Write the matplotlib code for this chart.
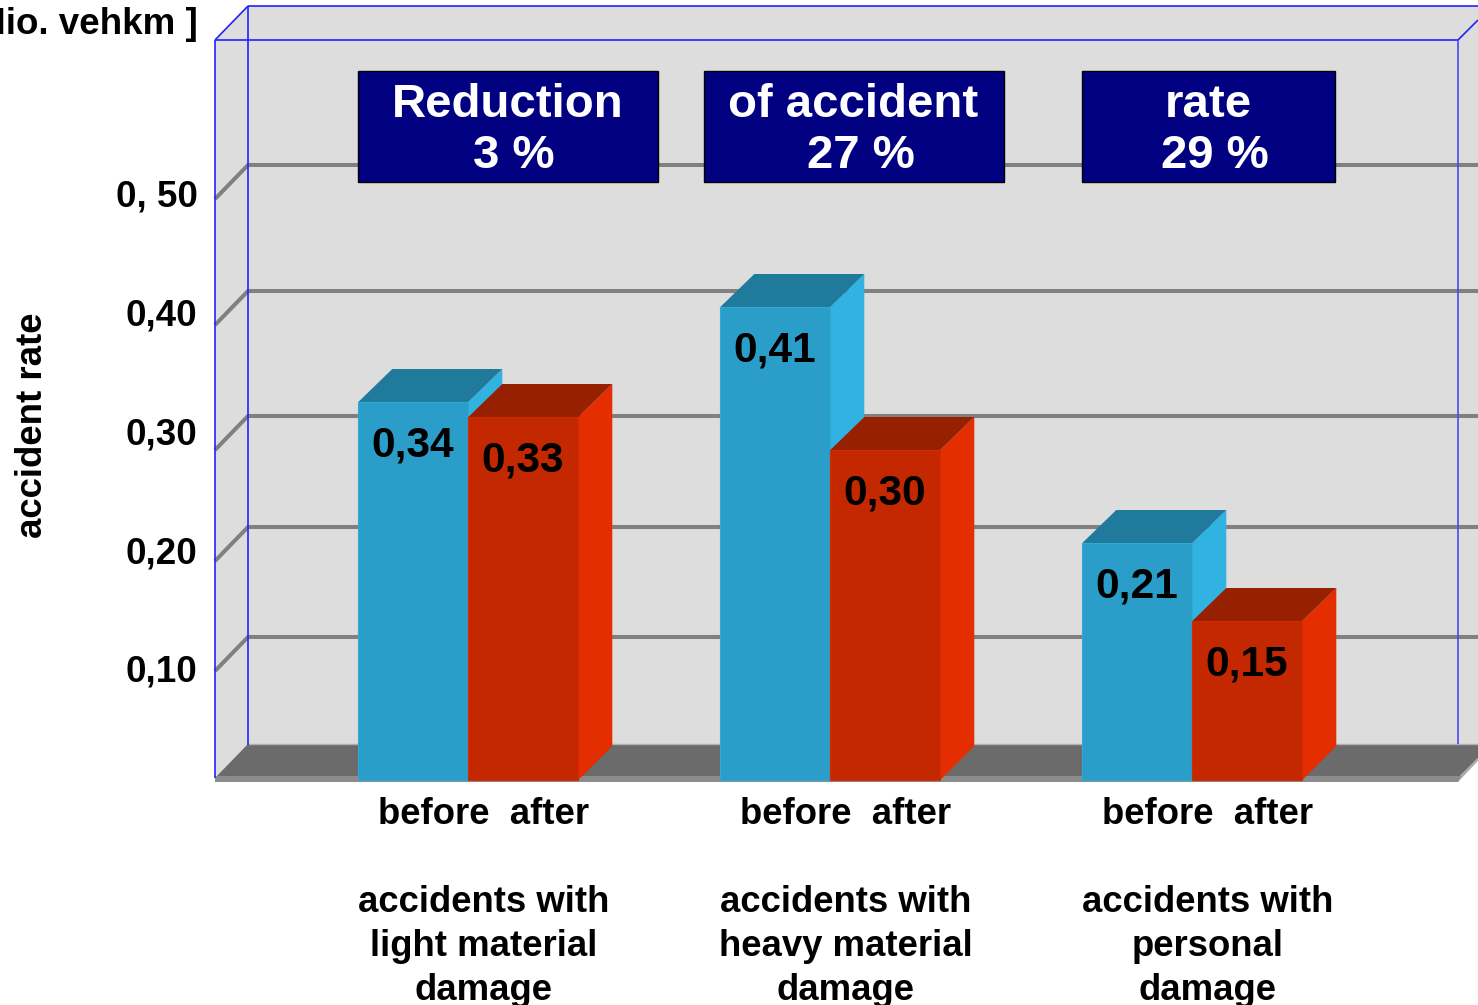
import numpy as np
import matplotlib
matplotlib.use("Agg")
import matplotlib.pyplot as plt
from matplotlib.patches import Polygon, Rectangle
from matplotlib.lines import Line2D
from matplotlib.transforms import Affine2D

plt.rcParams['font.family'] = ['Liberation Sans', 'DejaVu Sans']
plt.rcParams['font.weight'] = 'bold'

# ---- data ----
groups = ["accidents with\nlight material\ndamage",
          "accidents with\nheavy material\ndamage",
          "accidents with\npersonal\ndamage"]
before = [0.34, 0.41, 0.21]
after = [0.33, 0.30, 0.15]
before_labels = ["0,34", "0,41", "0,21"]
after_labels = ["0,33", "0,30", "0,15"]
tick_values = [0.1, 0.2, 0.3, 0.4, 0.5]
tick_labels = ["0,10", "0,20", "0,30", "0,40", "0, 50"]
box_top = ["Reduction", "of accident", "rate"]
box_bottom = ["3 %", "27 %", "29 %"]

# the source axis is not linear: height in pixels above the floor per value
scale_v = [-0.2, 0.0, 0.10, 0.15, 0.20, 0.21, 0.30, 0.33, 0.34, 0.40, 0.41, 0.50, 0.72]
scale_h = [-225, 0, 109, 159, 219, 237, 330, 363, 378, 455, 473, 581, 780]

W, H = 1478, 1005
fig = plt.figure(figsize=(W / 100, H / 100), dpi=100, facecolor='white')
ax = fig.add_axes([0, 0, 1, 1])
ax.set_yscale('function', functions=(lambda v: np.interp(v, scale_v, scale_h),
                                     lambda h: np.interp(h, scale_h, scale_v)))
ax.set_ylim(-0.2, 0.72)
ax.set_xlim(-468.3 / 362, 1009.7 / 362)
ax.axis('off')
PX = Affine2D().scale(1, -1).translate(0, H)


def to_px(x, y):
    dx, dy = ax.transData.transform((x, y))
    return dx, H - dy


def poly(pts, fc, z, ec='none', lw=0):
    ax.add_patch(Polygon(pts, closed=True, fc=fc, ec=ec, lw=lw, transform=PX, zorder=z, clip_on=False))


def line(xs, ys, c, lw, z, a=1.0):
    ax.add_line(Line2D(xs, ys, color=c, lw=lw, transform=PX, zorder=z, alpha=a,
                       solid_capstyle='butt', clip_on=False))


# walls and floor
DX, DY = 34, 34
poly([(215, 40), (248, 6), (1478, 6), (1478, 20), (1458, 40), (1478, 40), (1478, 745), (248, 745), (215, 780)], '#DDDDDD', 1)
poly([(1458, 40), (1478, 20), (1478, 40)], '#DDDDDD', 1)
poly([(215, 778), (248, 744), (1492, 744), (1458, 778)], '#6B6B6B', 2)
poly([(215, 776), (1461, 776), (1458, 782), (215, 782)], '#8C8C8C', 3)
line([248, 1478], [744, 744], '#B0B0B0', 1, 2)
poly([(1458, 782), (1492, 746), (1492, 744), (1458, 778)], '#A8A8A8', 2)

# grid lines on the back wall and the left wall
for v in tick_values:
    _, yf = to_px(0, v)
    line([215, 248, 1478], [yf, yf - DY, yf - DY], '#808080', 2.9, 4)

# blue frame
blue = '#2222FF'
line([215, 215], [40, 778], blue, 1.2, 5)
line([248, 248], [6, 745], blue, 1.2, 5)
line([248, 1478], [6, 6], blue, 1.2, 5)
line([215, 248], [40, 6], blue, 1.2, 5)
line([215, 1458], [40, 40], blue, 1.2, 5)
line([1458, 1458], [40, 744], '#4A4AF5', 1.2, 5)
line([1458, 1478], [40, 20], blue, 1.2, 5)

# value boxes
for (x0, x1), t, b, ct, cb in zip([(358, 658), (704, 1004), (1082, 1334.5)], box_top, box_bottom,
                                  [507.5, 853.5, 1208], [514, 860.5, 1215]):
    ax.add_patch(Rectangle((x0, 70.5), x1 - x0, 111, fc='#000080', ec='black', lw=1, transform=PX, zorder=6))
    ax.text(ct, 117, t, transform=PX, color='white', fontsize=34.1, ha='center', va='baseline', zorder=7)
    ax.text(cb, 168, b, transform=PX, color='white', fontsize=34.1, ha='center', va='baseline', zorder=7)

# 3D bars
w = 110 / 362
z = 10
series = [(before, before_labels, -w, '#2A9DC8', '#1F7A9B', '#30B3E0', '#2FAAD6'),
          (after, after_labels, 0.0, '#C42800', '#962000', '#E52E00', '#D42A00')]
for i in range(len(groups)):
    for vals, labs, off, front, top, side, edge in series:
        x0 = i + off
        xl, yt = to_px(x0, vals[i])
        xr, _ = to_px(x0 + w, vals[i])
        _, yb = to_px(x0, 0)
        poly([(xr, yt), (xr + DX, yt - 33), (xr + DX, yb - DY), (xr, yb)], side, z)
        poly([(xl, yt), (xl + DX, yt - 33), (xr + DX, yt - 33), (xr, yt)], top, z)
        ax.bar(x0, vals[i], width=w, bottom=0, align='edge', color=front, zorder=z + 0.5,
               edgecolor=edge, linewidth=0.8)
        ax.annotate(labs[i], (x0 + w / 2, vals[i]), xytext=(-1, -54), textcoords='offset pixels',
                    ha='center', va='baseline', fontsize=30.6, color='black', zorder=z + 1)
        z += 2

# y tick labels and axis titles
for lab, base in zip(tick_labels, [681, 563, 444, 325, 206]):
    ax.text(197.5, base, lab, transform=PX, fontsize=26.5, ha='right', va='baseline', color='black')
ax.text(197.5, 34, "Mio. vehkm ]", transform=PX, fontsize=26.5, ha='right', va='baseline', color='black', clip_on=True)
ax.text(33, 425.5, "accident rate", transform=PX, fontsize=26.4, rotation=90, ha='center', va='center', color='black')

# x labels
for i, g in enumerate(groups):
    xc = 484 + 362 * i
    ax.text(xc, 824, "before  after", transform=PX, fontsize=26.3, ha='center', va='baseline', color='black')
    for ln, base in zip(g.split("\n"), [912, 956, 1000]):
        ax.text(xc, base, ln, transform=PX, fontsize=26.3, ha='center', va='baseline', color='black')

fig.savefig("out.png", dpi=100, facecolor='white')
